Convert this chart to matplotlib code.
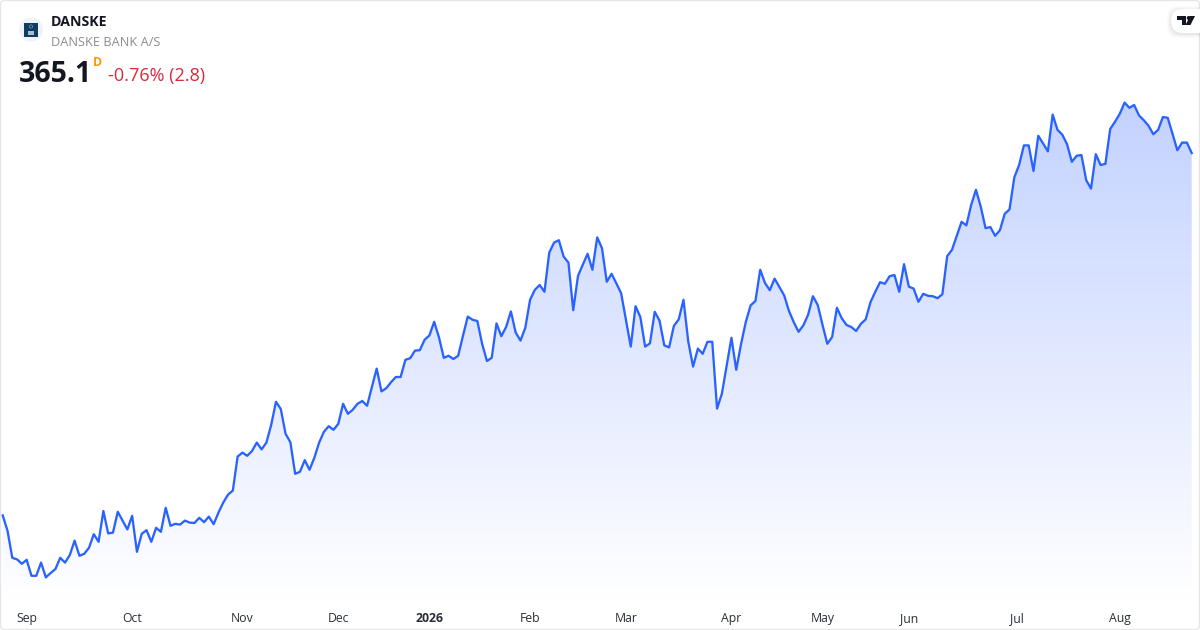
import numpy as np
import matplotlib
matplotlib.use('Agg')
import matplotlib.pyplot as plt
from matplotlib.patches import Circle, FancyBboxPatch, Polygon, Rectangle
from matplotlib.colors import LinearSegmentedColormap

plt.rcParams['font.family'] = ['Open Sans', 'DejaVu Sans']

### DATA

close = [
    274.5, 270.7, 263.9, 263.5, 262.4, 263.4, 259.4, 259.4, 262.7, 259.0,
    260.1, 261.1, 263.9, 262.7, 264.6, 268.2, 264.4, 264.9, 266.4, 269.8,
    267.9, 275.6, 270.0, 270.2, 275.4, 273.2, 271.0, 274.4, 265.4, 269.9,
    270.8, 267.9, 271.4, 270.4, 276.4, 271.9, 272.4, 272.2, 273.2, 272.7,
    272.6, 273.9, 272.8, 274.2, 272.3, 275.2, 277.7, 279.7, 280.7,
    289.2, 290.2, 289.4, 290.6, 292.7, 291.0, 292.7, 297.1, 302.9, 301.1,
    294.9, 292.8, 284.9, 285.4, 288.3, 285.9, 288.9, 292.7, 295.4, 296.8,
    295.9, 297.4, 302.4, 299.9, 300.9, 302.4, 303.1, 301.9, 306.5, 311.2,
    305.5, 306.3, 307.8, 309.1, 309.1, 313.4, 313.8, 315.7, 315.8, 318.4,
    319.5, 322.9, 319.0, 313.9, 314.4, 313.6, 314.4, 319.4, 324.2, 323.4,
    323.1, 317.4, 313.1, 313.9, 322.5,
    319.3, 321.6, 325.5, 320.2, 318.2, 321.4, 328.4, 330.9, 332.1, 330.4,
    340.2, 342.7, 343.3, 339.2, 337.7, 325.8, 334.4, 337.2, 339.9, 335.9,
    344.0, 341.3, 332.9, 334.9, 332.5, 330.0, 323.4, 316.7, 326.8, 324.1,
    316.7, 317.5, 325.4, 323.2, 317.0, 316.5, 321.9, 323.5, 328.4, 317.9,
    311.7, 316.2, 314.9, 317.9, 317.9, 301.2, 304.9, 311.9, 318.9, 310.9,
    317.3, 322.9, 327.0, 328.1, 335.9, 332.6, 330.8, 333.7, 331.6, 329.5,
    325.6, 322.8, 320.4, 322.0, 324.7, 329.3, 327.1, 322.1, 317.4, 319.1,
    326.4, 323.8, 322.1, 321.6, 320.6, 322.4, 323.5, 327.8, 330.4, 332.8,
    332.4, 334.3, 334.6, 330.4, 337.3, 331.7, 331.2, 327.9, 329.9, 329.4,
    329.3, 328.8, 329.8, 339.3, 340.9, 344.4, 347.9, 347.0, 352.1, 355.9,
    351.7, 346.3, 346.6, 344.4, 345.8, 349.9, 351.0, 359.0, 362.1, 367.0,
    367.0, 360.6, 369.4, 367.5, 365.5, 374.7, 370.9, 369.7, 367.3, 362.9,
    364.4, 364.6, 358.3, 356.2, 364.8, 362.1, 362.4, 371.1, 372.9, 374.9,
    377.7, 376.4, 377.1, 374.5, 373.3, 371.9, 369.8, 370.9, 374.1, 373.9,
    369.9, 365.8, 367.7, 367.7, 365.1,
]
month_labels = ['Sep', 'Oct', 'Nov', 'Dec', '2026', 'Feb', 'Mar', 'Apr', 'May', 'Jun', 'Jul', 'Aug']
month_starts = [5, 27, 50, 70, 89, 110, 130, 152, 171, 189, 211.5, 233]

### FIGURE

fig = plt.figure(figsize=(12, 6.3), dpi=100, facecolor='white')
ax = fig.add_axes([0, 30 / 630, 1, 600 / 630])
ax.set_facecolor('none')

bars = np.arange(len(close))
step = (1191.7 - 2.7) / (len(close) - 1)

# area under the line, blue fading out to white
fill = ax.fill_between(bars, close, 253.35, color='none', linewidth=0)
fade = LinearSegmentedColormap.from_list('fade', ['#ffffff', '#c3d2ff'])
img = ax.imshow(np.linspace(1, 0, 256).reshape(-1, 1), cmap=fade, aspect='auto',
                extent=[bars[0], bars[-1], 253.35, max(close)], zorder=1)
img.set_clip_path(fill.get_paths()[0], transform=ax.transData)
ax.set_xlim(-2.7 / step, (1200 - 2.7) / step)
ax.set_ylim(253.35, 403.35)

ax.plot(bars, close, color='#2962FF', linewidth=1.65, solid_joinstyle='round', zorder=2)

ax.set_xticks(month_starts)
ax.set_xticklabels(month_labels, fontsize=8.8, color='#2a2e39')
ax.get_xticklabels()[4].set_fontweight('bold')
ax.tick_params(axis='x', length=0, pad=8.8)
ax.set_yticks([])
for s in ax.spines.values():
    s.set_visible(False)

### HEADER, in pixel coordinates

top = fig.add_axes([0, 0, 1, 1])
top.set_xlim(0, 1200)
top.set_ylim(630, 0)
top.axis('off')

top.add_patch(FancyBboxPatch((0.5, 0.5), 1199, 629, boxstyle='round,pad=0,rounding_size=4',
                             fc='none', ec='#e6e6e6', lw=0.9))

top.add_patch(Circle((31, 29.5), 12, fc='#eff3f9', ec='none'))
top.add_patch(Rectangle((24, 23), 14, 14, fc='#0e3d63', ec='none'))
top.add_patch(Rectangle((28, 31), 6, 4, fc='#a9bccb', ec='none'))
top.add_patch(Circle((31, 26.5), 1.6, fc='none', ec='#6f8ca3', lw=0.6))

top.text(51, 22, 'DANSKE', fontsize=10.2, fontweight='bold', color='#131722', va='center')
top.text(51, 42, 'DANSKE BANK A/S', fontsize=9.15, color='#8c8c8c', va='center')
top.text(19, 74, '365.1', fontsize=20.5, fontweight='bold', color='#131722', va='center')
top.text(93, 62, 'D', fontsize=8.8, fontweight='bold', color='#ff9800', va='center')
top.text(108, 76.5, '-0.76% (2.8)', fontsize=13, color='#d8293d', va='center')

# TradingView badge
for grow, alpha in [(4, 0.02), (2.5, 0.03), (1, 0.04)]:
    top.add_patch(FancyBboxPatch((1171 - grow, 9 - grow + 1), 50 + grow, 24 + 2 * grow,
                                 boxstyle='round,pad=0,rounding_size=12',
                                 fc='black', ec='none', alpha=alpha))
top.add_patch(FancyBboxPatch((1171, 9), 50, 24, boxstyle='round,pad=0,rounding_size=12',
                             fc='white', ec='none'))
top.add_patch(Polygon([(1177, 16), (1186, 16), (1186, 25), (1181.5, 25), (1181.5, 20), (1177, 20)],
                      fc='#131722', ec='none'))
top.add_patch(Circle((1188.7, 18), 2, fc='#131722', ec='none'))
top.add_patch(Polygon([(1190, 16), (1195, 16), (1190.5, 25), (1185.5, 25)], fc='#131722', ec='none'))

fig.savefig('out.png', dpi=100, facecolor='white')
